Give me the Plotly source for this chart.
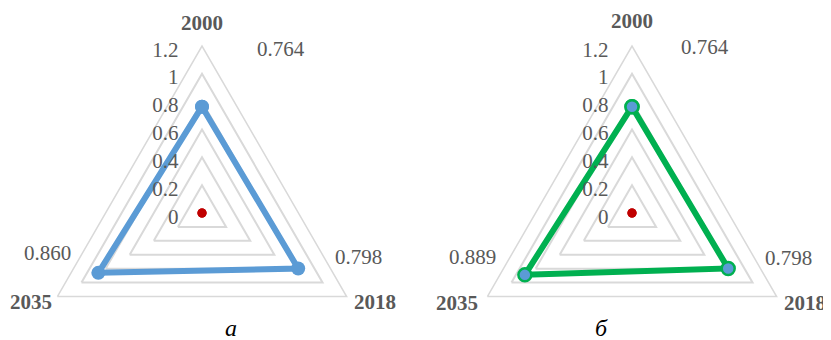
import plotly.graph_objects as go

# ---- data ----
categories = ["2000", "2018", "2035"]
values_a = [0.764, 0.798, 0.860]
values_b = [0.764, 0.798, 0.889]
center_values = [0, 0, 0]
radial_ticks = [0, 0.2, 0.4, 0.6, 0.8, 1, 1.2]
radial_ticktext = ["0", "0.2", "0.4", "0.6", "0.8", "1", "1.2"]
panel_labels = ["а", "б"]

# ---- layout geometry (pixels, in reference-image coordinates) ----
OFF = 8            # page body margin shifts the figure by this much
W, H = 831 - OFF, 384 - OFF
R = 167
centers = [(202, 213), (632, 213)]
SERIF = "Liberation Serif"
GRAY = "#595959"
GRID = "#d9d9d9"
EPS = 1e-4         # plotly hides points lying exactly on the inner polygon (r = 0)


def px_x(x):
    return (x - OFF) / W


def px_y(y):
    return 1 - (y - OFF) / H


def closed(v):
    return list(v) + [v[0]]


fig = go.Figure()

styles = [
    dict(line=dict(color="#5b9bd5", width=6),
         marker=dict(color="#5b9bd5", size=14, line=dict(color="#5b9bd5", width=0))),
    dict(line=dict(color="#00b050", width=6),
         marker=dict(color="#5b9bd5", size=13, line=dict(color="#00b050", width=2.5))),
]

for i, vals in enumerate([values_a, values_b]):
    sub = "polar" if i == 0 else "polar2"
    fig.add_trace(go.Scatterpolar(
        r=closed(vals), theta=closed(categories), mode="lines+markers",
        subplot=sub, showlegend=False, hoverinfo="skip", **styles[i]))
    fig.add_trace(go.Scatterpolar(
        r=[v + EPS for v in center_values], theta=categories, mode="markers", subplot=sub,
        marker=dict(color="#c00000", size=9), showlegend=False, hoverinfo="skip"))


def polar_layout(cx, cy):
    return dict(
        domain=dict(x=[px_x(cx - R), px_x(cx + R)], y=[px_y(cy + R), px_y(cy - R)]),
        gridshape="linear",
        bgcolor="white",
        radialaxis=dict(
            range=[0, 1.2], tickvals=radial_ticks, ticktext=radial_ticktext,
            angle=90, side="counterclockwise", showline=False,
            gridcolor=GRID, gridwidth=1.5,
            ticks="outside", ticklen=4, tickcolor="rgba(0,0,0,0)",
            tickfont=dict(family=SERIF, size=21, color=GRAY),
        ),
        angularaxis=dict(
            direction="clockwise", rotation=90, showgrid=False,
            showline=True, linecolor=GRID, linewidth=1.5, ticks="",
            showticklabels=False,
        ),
    )


annotations = []
value_pos = [
    [(281, 49), (358, 257), (47, 253)],
    [(705, 47), (788, 258), (472, 257)],
]
cat_pos = [
    [(202, 23), (375, 302), (31, 302)],
    [(632, 21), (805, 303), (457, 303)],
]
for i, vals in enumerate([values_a, values_b]):
    for v, (x, y) in zip(vals, value_pos[i]):
        annotations.append(dict(
            x=px_x(x), y=px_y(y), xref="paper", yref="paper", text=f"{v:.3f}",
            showarrow=False, xanchor="center", yanchor="middle",
            font=dict(family=SERIF, size=21, color=GRAY)))
    for c, (x, y) in zip(categories, cat_pos[i]):
        annotations.append(dict(
            x=px_x(x), y=px_y(y), xref="paper", yref="paper", text=f"<b>{c}</b>",
            showarrow=False, xanchor="center", yanchor="middle",
            font=dict(family=SERIF, size=21, color=GRAY)))

label_pos = [(231, 328), (601, 328)]
for lab, (x, y) in zip(panel_labels, label_pos):
    annotations.append(dict(
        x=px_x(x), y=px_y(y), xref="paper", yref="paper",
        text=f"<i>{lab}</i>", showarrow=False, xanchor="center", yanchor="middle",
        font=dict(family=SERIF, size=24, color="black")))

fig.update_layout(
    width=W, height=H,
    margin=dict(l=0, r=0, t=0, b=0, pad=0),
    paper_bgcolor="white",
    polar=polar_layout(*centers[0]),
    polar2=polar_layout(*centers[1]),
    annotations=annotations,
)

fig.write_html("out.html")
